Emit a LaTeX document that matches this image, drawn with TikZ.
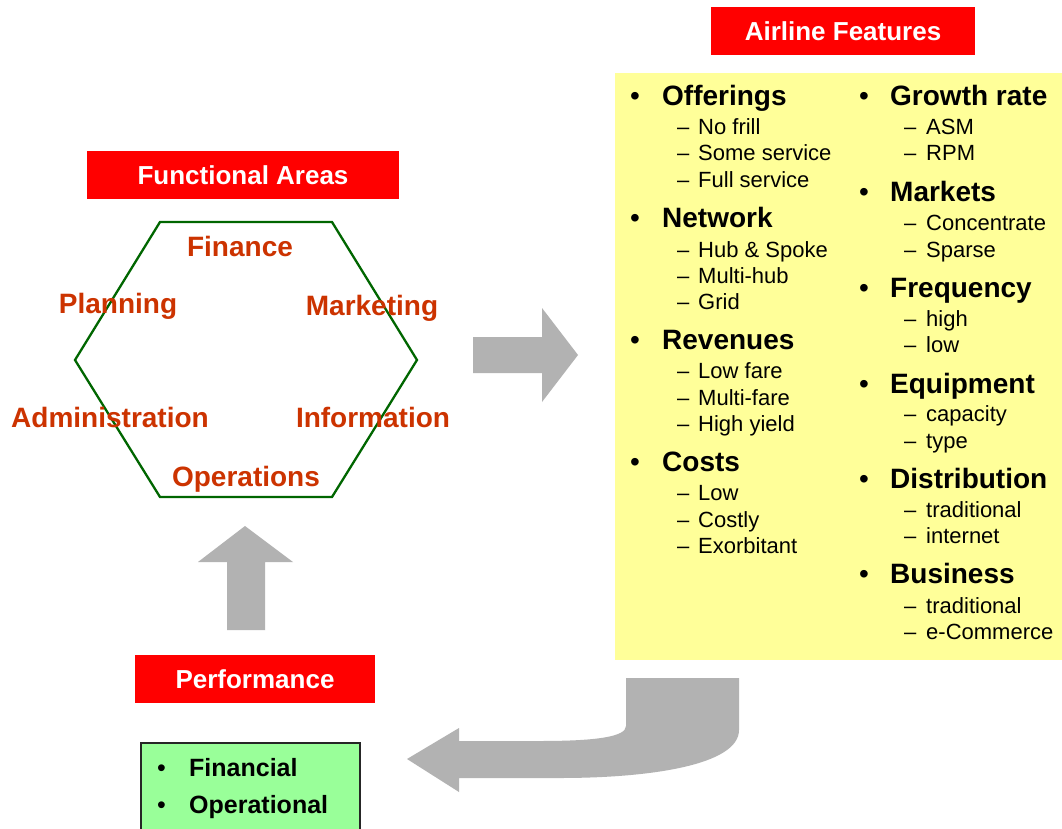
\documentclass[tikz,border=0pt]{standalone}
\usepackage{fontspec}
\setmainfont{Liberation Sans}
\definecolor{tred}{RGB}{255,0,0}
\definecolor{agray}{RGB}{178,178,178}
\definecolor{yel}{RGB}{255,255,153}
\definecolor{grn}{RGB}{153,255,153}
\definecolor{lab}{RGB}{204,51,0}
\definecolor{hexg}{RGB}{0,102,0}
\begin{document}
\begin{tikzpicture}[x=1pt,y={(0pt,-1pt)},
  titlebox/.style={fill=tred,text=white,font=\fontsize{26}{30}\selectfont\bfseries,inner sep=0pt,minimum height=48pt},
  hexlabel/.style={text=lab,font=\fontsize{28}{32}\selectfont\bfseries,inner sep=0pt,anchor=base},
  head/.style={font=\fontsize{28}{32}\selectfont\bfseries,inner sep=0pt,anchor=base west},
  bul/.style={font=\fontsize{28}{32}\selectfont,inner sep=0pt,anchor=base west},
  sub/.style={font=\fontsize{22}{26}\selectfont,inner sep=0pt,anchor=base west},
  gtext/.style={font=\fontsize{25}{29}\selectfont\bfseries,inner sep=0pt,anchor=base west},
  gbul/.style={font=\fontsize{25}{29}\selectfont,inner sep=0pt,anchor=base west},
  garrow/.style={fill=agray,draw=none}]
\useasboundingbox (0,0) rectangle (1062,829);
\fill[white] (0,0) rectangle (1062,829);

% Functional areas
\node[titlebox,minimum width=312pt] (fa) at (243,175) {Functional Areas};
\coordinate (h1) at (160,222);
\coordinate (h2) at (332,222);
\coordinate (h3) at (417,360);
\coordinate (h4) at (332,497);
\coordinate (h5) at (160,497);
\coordinate (h6) at (75,360);
\draw[hexg,line width=2.3pt] (h1) -- (h2) -- (h3) -- (h4) -- (h5) -- (h6) -- cycle;
\node[hexlabel] (fin) at (240,256) {Finance};
\node[hexlabel] (pla) at (118,313) {Planning};
\node[hexlabel] (mar) at (372,315) {Marketing};
\node[hexlabel] (adm) at (110,427) {Administration};
\node[hexlabel] (inf) at (373,427) {Information};
\node[hexlabel] (ope) at (246,486) {Operations};

% Airline features
\node[titlebox,minimum width=264pt] (af) at (843,31) {Airline Features};
\fill[yel] (615,73) rectangle (1062,660);

\foreach \y/\t [count=\i] in {106/Offerings,227/Network,349/Revenues,471/Costs}{
  \node[bul] (lb\i) at (630,\y) {\textbullet};
  \node[head] (lh\i) at (662,\y) {\t};
}
\foreach \y/\t [count=\i] in {135/No frill,161/Some service,188/Full service,257/Hub \& Spoke,283/Multi-hub,309/Grid,378/Low fare,405/Multi-fare,431/High yield,500/Low,527/Costly,553/Exorbitant}{
  \node[sub] (ld\i) at (677,\y) {--};
  \node[sub] (ls\i) at (698,\y) {\t};
}
\foreach \y/\t [count=\i] in {106/Growth rate,201/Markets,297/Frequency,393/Equipment,488/Distribution,583/Business}{
  \node[bul] (rb\i) at (859,\y) {\textbullet};
  \node[head] (rh\i) at (890,\y) {\t};
}
\foreach \y/\t [count=\i] in {135/ASM,161/RPM,230/Concentrate,257/Sparse,326/high,352/low,421/capacity,448/type,517/traditional,543/internet,613/traditional,639/e-Commerce}{
  \node[sub] (rd\i) at (904,\y) {--};
  \node[sub] (rs\i) at (926,\y) {\t};
}

% Arrows
\fill[garrow] (473,337) -- (542,337) -- (542,308) -- (578,355) -- (542,402) -- (542,373) -- (473,373) -- cycle;
\fill[garrow] (227,630) -- (227,562) -- (198,562) -- (245,526) -- (293,562) -- (265,562) -- (265,630) -- cycle;
\fill[garrow] (739,678) -- (739,730) .. controls (739,765) and (650,778) .. (560,778)
  -- (459,778) -- (459,792) -- (407,759) -- (459,728) -- (459,741) -- (540,741)
  .. controls (595,741) and (626,737) .. (626,726) -- (626,678) -- cycle;

% Performance
\node[titlebox,minimum width=240pt] (pf) at (255,679) {Performance};
\filldraw[fill=grn,draw=black!85,line width=1.2pt] (141,743) rectangle (360,834);
\node[gbul] (gb1) at (157,776) {\textbullet};
\node[gtext] (gt1) at (189,776) {Financial};
\node[gbul] (gb2) at (157,813) {\textbullet};
\node[gtext] (gt2) at (189,813) {Operational};
\end{tikzpicture}
\end{document}
